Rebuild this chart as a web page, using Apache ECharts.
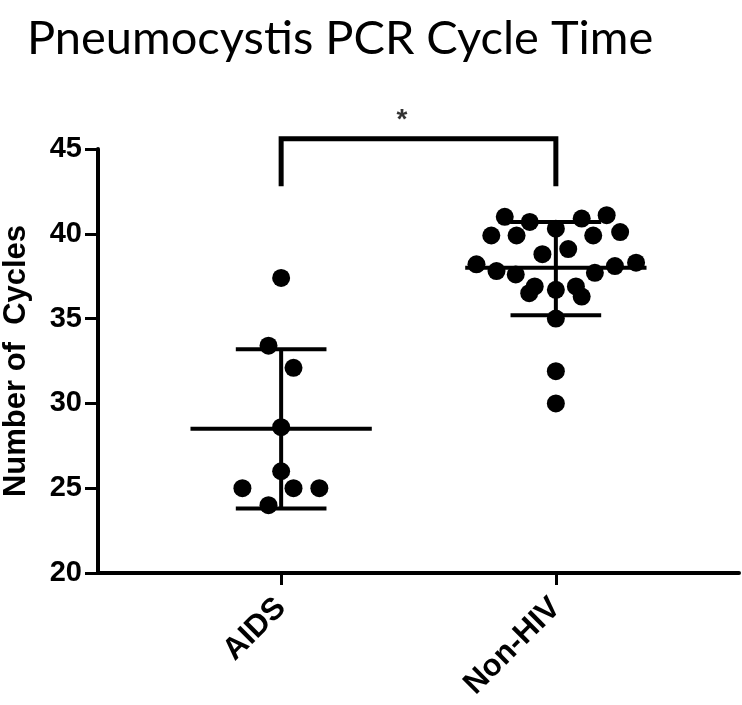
<!DOCTYPE html>
<html>
<head>
<meta charset="utf-8">
<script src="https://cdn.jsdelivr.net/npm/echarts@6/dist/echarts.min.js"></script>
<style>html,body{margin:0;padding:0;background:#fff}#c{width:742px;height:705px}</style>
</head>
<body>
<div id="c"></div>
<script>
// Categories and their x positions on the value axis
var categories = ['AIDS', 'Non-HIV'];
var categoryPos = [1, 2];
var yTicks = [20, 25, 30, 35, 40, 45];

var aidsCycles = [37.4, 33.4, 32.1, 28.6, 26.0, 25.0, 25.0, 25.0, 24.0];
var aidsX      = [1.0, 0.954, 1.045, 1.0, 1.0, 0.859, 1.045, 1.139, 0.954];

var nonHivCycles = [41.0, 40.7, 40.9, 41.1, 39.9, 39.9, 40.3, 39.9, 40.1, 38.8, 39.1,
                    38.2, 37.8, 37.6, 37.7, 38.1, 38.3, 36.9, 36.5, 36.7, 36.9, 36.3,
                    35.0, 31.9, 30.0];
var nonHivX      = [1.814, 1.905, 2.094, 2.185, 1.765, 1.857, 2.0, 2.136, 2.234, 1.951, 2.045,
                    1.711, 1.784, 1.854, 2.142, 2.215, 2.292, 1.923, 1.903, 2.0, 2.073, 2.094,
                    2.0, 2.0, 2.0];

// Summary lines: center, low whisker, high whisker
var centerValues = [28.5, 38.0];
var lowValues    = [23.8, 35.2];
var highValues   = [33.2, 40.7];

// Significance bracket
var bracketLow = 42.8;
var bracketHigh = 45.6;
var sigLabel = '*';
var sigPos = [1.44, 46.7];

var MEAN_HALF = 0.33;
var WHISK_HALF = 0.165;

var pts = [];
aidsCycles.forEach(function (v, i) { pts.push([aidsX[i], v]); });
nonHivCycles.forEach(function (v, i) { pts.push([nonHivX[i], v]); });

var summary = categoryPos.map(function (p, i) {
  return [p, centerValues[i], lowValues[i], highValues[i]];
});

var chart = echarts.init(document.getElementById('c'));
var FONT = '"Liberation Sans", Arial, sans-serif';
chart.setOption({
  animation: false,
  backgroundColor: '#fff',
  title: {
    text: 'Pneumocystis PCR Cycle Time',
    left: 22, top: 10,
    textStyle: { fontFamily: 'Lato, "Open Sans", sans-serif', fontWeight: 'normal', fontSize: 47, color: '#000' }
  },
  grid: { left: 98, right: 3, top: 149, bottom: 132, containLabel: false, outerBoundsMode: 'none' },
  xAxis: [
    {
      type: 'value', min: 1 / 3, max: 8 / 3,
      splitLine: { show: false },
      axisLine: { lineStyle: { color: '#000', width: 4 } },
      axisTick: { show: false },
      axisLabel: { show: false }
    },
    {
      type: 'value', min: 1 / 3, max: 8 / 3, position: 'bottom',
      splitLine: { show: false },
      axisLine: { show: false },
      axisTick: { show: true, length: 12, customValues: categoryPos, lineStyle: { color: '#000', width: 3 } },
      axisLabel: {
        show: true, customValues: categoryPos, rotate: 45, margin: 30,
        fontFamily: FONT, fontWeight: 'bold', fontSize: 31, color: '#000',
        formatter: function (v) { var i = categoryPos.indexOf(v); return i >= 0 ? categories[i] : ''; }
      }
    }
  ],
  yAxis: {
    type: 'value', min: yTicks[0], max: yTicks[yTicks.length - 1], interval: 5,
    name: 'Number of  Cycles', nameLocation: 'middle', nameGap: 66,
    nameTextStyle: { fontFamily: FONT, fontWeight: 'bold', fontSize: 31, color: '#000' },
    splitLine: { show: false },
    axisLine: { show: true, lineStyle: { color: '#000', width: 4 } },
    axisTick: { show: true, length: 13, lineStyle: { color: '#000', width: 3 } },
    axisLabel: { margin: 16, fontFamily: FONT, fontWeight: 'bold', fontSize: 29, color: '#000' }
  },
  series: [
    {
      type: 'custom',
      renderItem: function (params, api) {
        var x = api.value(0), c = api.value(1), lo = api.value(2), hi = api.value(3);
        function seg(x1, y1, x2, y2) {
          var a = api.coord([x1, y1]), b = api.coord([x2, y2]);
          return { type: 'line', shape: { x1: a[0], y1: a[1], x2: b[0], y2: b[1] },
                   style: { stroke: '#000', lineWidth: 4 } };
        }
        return { type: 'group', children: [
          seg(x, lo, x, hi),
          seg(x - MEAN_HALF, c, x + MEAN_HALF, c),
          seg(x - WHISK_HALF, lo, x + WHISK_HALF, lo),
          seg(x - WHISK_HALF, hi, x + WHISK_HALF, hi)
        ] };
      },
      data: summary, z: 2
    },
    {
      type: 'scatter',
      data: pts,
      symbol: 'circle', symbolSize: 18,
      itemStyle: { color: '#000', opacity: 1 },
      z: 3
    },
    {
      type: 'line',
      data: [[categoryPos[0], bracketLow], [categoryPos[0], bracketHigh], [categoryPos[1], bracketHigh], [categoryPos[1], bracketLow]],
      symbol: 'none', clip: false,
      lineStyle: { color: '#000', width: 5, join: 'miter', cap: 'butt' },
      z: 4
    },
    {
      type: 'scatter',
      data: [sigPos],
      clip: false,
      symbolSize: 1,
      itemStyle: { color: 'rgba(0,0,0,0)' },
      label: { show: true, position: 'inside', formatter: sigLabel,
               fontFamily: FONT, fontWeight: 'bold', fontSize: 28, color: '#000' },
      z: 5
    }
  ]
});
</script>
</body>
</html>
